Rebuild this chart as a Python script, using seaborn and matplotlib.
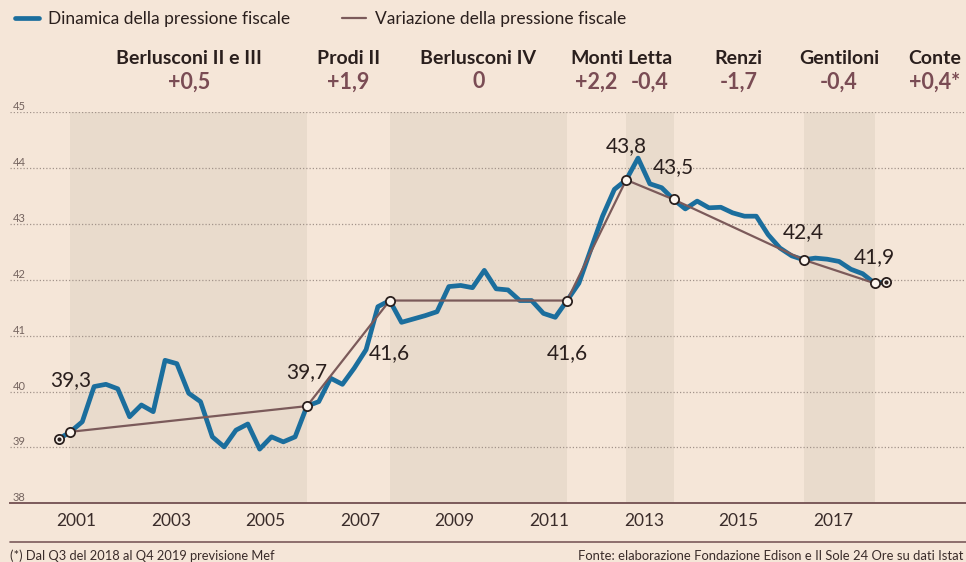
import matplotlib
matplotlib.use("Agg")
import matplotlib.pyplot as plt
import matplotlib.transforms as mtransforms
from matplotlib.lines import Line2D
import seaborn as sns
import pandas as pd

# quarterly tax burden (% of GDP), 2001Q1 .. 2018Q3
pressione = [
    39.15, 39.28, 39.46, 40.09, 40.13, 40.05, 39.55, 39.76, 39.64, 40.56,
    40.50, 39.97, 39.82, 39.19, 39.01, 39.31, 39.42, 38.97, 39.19, 39.10,
    39.19, 39.74, 39.82, 40.24, 40.13, 40.42, 40.75, 41.52, 41.63, 41.24,
    41.30, 41.36, 41.43, 41.88, 41.90, 41.86, 42.17, 41.84, 41.82, 41.63,
    41.63, 41.40, 41.33, 41.63, 41.94, 42.54, 43.14, 43.62, 43.79, 44.18,
    43.72, 43.65, 43.44, 43.27, 43.41, 43.29, 43.30, 43.20, 43.14, 43.14,
    42.81, 42.57, 42.43, 42.36, 42.39, 42.37, 42.33, 42.19, 42.11, 41.94,
    41.96,
]
start_quarter = "2001Q1"

# change of government quarters and their labels
cambi = ["2001Q2", "2006Q2", "2008Q1", "2011Q4", "2013Q1", "2014Q1", "2016Q4", "2018Q2"]
cambi_label = ["39,3", "39,7", "41,6", "41,6", "43,8", "43,5", "42,4", "41,9"]
label_offset = [52, 34, -53, -53, 34, 32, 28, 26]   # pixels above the marker

governi = ["Berlusconi II e III", "Prodi II", "Berlusconi IV", "Monti", "Letta",
           "Renzi", "Gentiloni", "Conte"]
variazione = ["+0,5", "+1,9", "0", "+2,2", "-0,4", "-1,7", "-0,4", "+0,4*"]
fine_conte = 2020.9
shaded = [0, 2, 4, 6]

anni_ticks = list(range(2001, 2020))
anni_label = list(range(2001, 2018, 2))

BG = "#f5e6d8"
BAND = "#e9dbcc"
BLUE = "#1b6e9d"
BROWN = "#7b5a5a"
DARK = "#2a1f1d"
VALCOL = "#7a4c54"

periods = pd.period_range(start_quarter, periods=len(pressione), freq="Q")
df = pd.DataFrame({"x": [p.year + (p.quarter - 0.5) / 4 for p in periods],
                   "y": pressione}, index=periods.astype(str))
turn = df.loc[cambi]

sns.set_theme(style="white")
plt.rcParams["font.family"] = ["Lato", "DejaVu Sans"]

fig = plt.figure(figsize=(9.66, 5.62), dpi=100, facecolor=BG)
ax = fig.add_axes([10 / 966, (562 - 503.3) / 562, 956 / 966, (503.3 - 112.3) / 562])
ax.set_facecolor(BG)
ax.set_xlim(2000.097, 2020.309)
ax.set_ylim(38, 45)

# shaded government periods
bounds = list(turn["x"]) + [fine_conte]
for i in shaded:
    ax.axvspan(bounds[i], bounds[i + 1], color=BAND, lw=0, zorder=0.5)

ax.set_axisbelow("line")
ax.set_yticks(range(38, 46))
ax.yaxis.grid(True, linestyle=(0, (1, 1.6)), color="#a3948b", lw=0.9)
ax.tick_params(axis="y", length=0, pad=-2, labelsize=8, labelcolor="#75645f")
for lbl in ax.get_yticklabels():
    lbl.set_horizontalalignment("left")
    lbl.set_verticalalignment("bottom")

ax.set_xticks(anni_ticks)
ax.set_xticklabels([])
ax.set_xticks([a + 0.5 for a in anni_label], minor=True)
ax.set_xticklabels([str(a) for a in anni_label], minor=True)
ax.tick_params(axis="x", which="major", length=8, width=1.2, color=BROWN, direction="out")
ax.tick_params(axis="x", which="minor", length=0, pad=7, labelsize=12.5, labelcolor="#3a2c2a")

for s in ["top", "left", "right"]:
    ax.spines[s].set_visible(False)
ax.spines["bottom"].set_color(BROWN)
ax.spines["bottom"].set_linewidth(1.4)

sns.lineplot(data=df, x="x", y="y", color=BLUE, lw=3.4, ax=ax, legend=False, zorder=3)
line_blue = ax.lines[-1]
sns.lineplot(data=turn, x="x", y="y", color=BROWN, lw=1.6, ax=ax, legend=False, zorder=4)
line_brown = ax.lines[-1]
ax.set_xlabel("")
ax.set_ylabel("")

ax.scatter(turn["x"], turn["y"], s=44, facecolor="#fcf5ee", edgecolor=DARK, lw=1.3, zorder=6)
ends = df.iloc[[0, -1]]
ax.scatter(ends["x"], ends["y"], s=44, facecolor="#fcf5ee", edgecolor=DARK, lw=1.3, zorder=6)
ax.scatter(ends["x"], ends["y"], s=4, color=DARK, zorder=7)

for (x, y), lab, off in zip(turn[["x", "y"]].values, cambi_label, label_offset):
    ax.annotate(lab, (x, y), xytext=(0, off), textcoords="offset pixels",
                ha="center", va="center", fontsize=15, color=DARK, zorder=8)

trans = mtransforms.blended_transform_factory(ax.transData, fig.transFigure)
for i, (g, v) in enumerate(zip(governi, variazione)):
    xm = (bounds[i] + bounds[i + 1]) / 2
    ax.text(xm, 1 - 58 / 562, g, transform=trans, ha="center", va="center",
            fontsize=14, fontweight="bold", color=DARK, clip_on=False)
    ax.text(xm, 1 - 82 / 562, v, transform=trans, ha="center", va="center",
            fontsize=15.5, fontweight="bold", color=VALCOL, clip_on=False)

fig.legend([line_blue, line_brown],
           ["Dinamica della pressione fiscale", "Variazione della pressione fiscale"],
           loc="center left", bbox_to_anchor=(8 / 966, 1 - 19 / 562), ncol=2, frameon=False,
           fontsize=12.5, handlelength=1.4, handletextpad=0.5, columnspacing=3.0,
           labelcolor=DARK, borderaxespad=0)

fig.add_artist(Line2D([10 / 966, 1], [1 - 541.7 / 562] * 2, color=BROWN, lw=1.2))
fig.text(10 / 966, 1 - 556 / 562, "(*) Dal Q3 del 2018 al Q4 2019 previsione Mef",
         ha="left", va="center", fontsize=9.3, color="#3a2c2a")
fig.text(963 / 966, 1 - 556 / 562,
         "Fonte: elaborazione Fondazione Edison e Il Sole 24 Ore su dati Istat",
         ha="right", va="center", fontsize=9.4, color="#3a2c2a")

fig.savefig("out.png", dpi=100, facecolor=BG)
